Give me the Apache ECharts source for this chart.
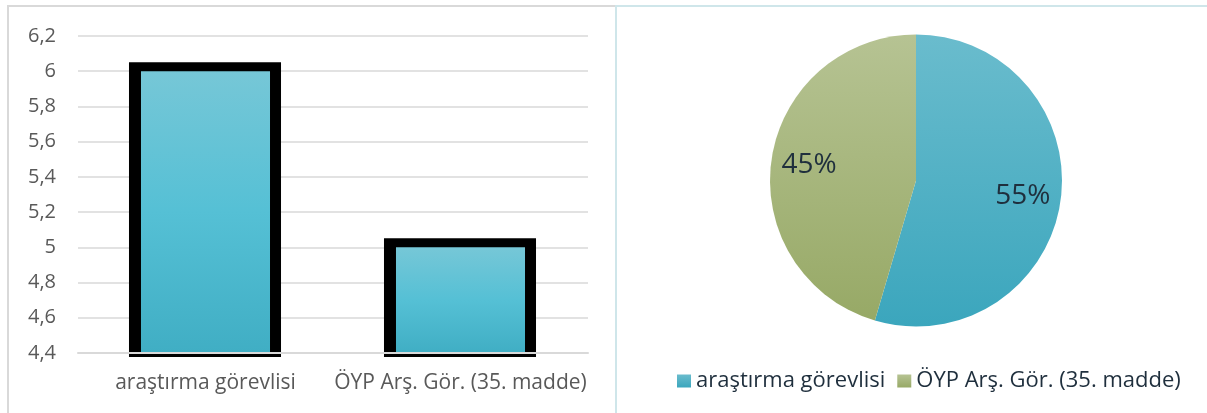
<!DOCTYPE html>
<html>
<head>
<meta charset="utf-8">
<script src="https://cdn.jsdelivr.net/npm/echarts@6/dist/echarts.min.js"></script>
<style>
html,body{margin:0;padding:0;background:#fff;}
#wrap{position:relative;width:1207px;height:413px;overflow:hidden;}
#chart{position:absolute;left:0;top:0;width:1207px;height:413px;}
.pl{position:absolute;left:7px;top:5px;width:608px;height:420px;border-top:2px solid #d9d9d9;border-left:2px solid #d9d9d9;box-sizing:border-box;}
.pr{position:absolute;left:615px;top:5px;width:600px;height:420px;border-top:2px solid #cfe6ea;border-left:2px solid #cfe6ea;box-sizing:border-box;}
</style>
</head>
<body>
<div id="wrap">
<div class="pl"></div>
<div class="pr"></div>
<div id="chart"></div>
</div>
<script>
// ---- data ----
const categories = ['araştırma görevlisi', 'ÖYP Arş. Gör. (35. madde)'];
const barValues = [6, 5];
const yTicks = [4.4, 4.6, 4.8, 5, 5.2, 5.4, 5.6, 5.8, 6, 6.2];
const pieValues = [6, 5];

const FONT = 'Open Sans';
const chart = echarts.init(document.getElementById('chart'), null, {renderer: 'canvas'});

const barGrad = new echarts.graphic.LinearGradient(0, 0, 0, 1, [
  {offset: 0, color: '#76c7d7'},
  {offset: 0.5, color: '#55c0d5'},
  {offset: 1, color: '#40aec4'}
]);
const blueGrad = new echarts.graphic.LinearGradient(0, 0, 0, 1, [
  {offset: 0, color: '#6abccd'},
  {offset: 1, color: '#3ba6bd'}
]);
const greenGrad = new echarts.graphic.LinearGradient(0, 0, 0, 1, [
  {offset: 0, color: '#b6c393'},
  {offset: 1, color: '#97a966'}
]);

const yMin = yTicks[0], yMax = yTicks[yTicks.length - 1];

const option = {
  animation: false,
  grid: {left: 78, right: 619, top: 36, bottom: 60, containLabel: false},
  xAxis: {
    type: 'category',
    data: categories,
    z: 10,
    axisLine: {show: true, lineStyle: {color: '#d9d9d9', width: 2}},
    axisTick: {show: false},
    axisLabel: {color: '#595959', fontFamily: FONT, fontSize: 21, margin: 20, interval: 0}
  },
  yAxis: {
    type: 'value',
    min: yMin, max: yMax, interval: 0.2,
    axisLine: {show: false},
    axisTick: {show: false},
    splitLine: {lineStyle: {color: '#d9d9d9', width: 1.5}},
    axisLabel: {
      color: '#595959', fontFamily: FONT, fontSize: 20, margin: 22,
      formatter: v => String(Number(v.toFixed(1))).replace('.', ',')
    }
  },
  legend: {
    left: 672, top: 365,
    itemWidth: 14, itemHeight: 13, itemGap: 12,
    icon: 'rect',
    textStyle: {color: '#1f2f3d', fontFamily: FONT, fontSize: 22, padding: [0, 0, 0, 0]},
    data: categories
  },
  series: [
    {
      type: 'custom',
      name: 'bars',
      z: 2,
      data: barValues.map((v, i) => [i, v]),
      renderItem: function (params, api) {
        const top = api.coord([api.value(0), api.value(1)]);
        const base = api.coord([api.value(0), yMin]);
        const band = api.size([1, 0])[0];
        const fw = band * 0.506;
        const cx = top[0];
        return {
          type: 'group',
          children: [
            {type: 'rect', shape: {x: cx - fw / 2 - 12, y: top[1] - 9, width: fw + 23, height: base[1] - top[1] + 13},
              style: {fill: '#000'}},
            {type: 'rect', shape: {x: cx - fw / 2, y: top[1], width: fw, height: base[1] - top[1]},
              style: {fill: barGrad}}
          ]
        };
      }
    },
    {
      type: 'pie',
      name: 'pie',
      center: [916, 180.5],
      radius: 146,
      startAngle: 90,
      clockwise: true,
      label: {show: false},
      labelLine: {show: false},
      silent: true,
      data: [
        {name: categories[0], value: pieValues[0], itemStyle: {color: blueGrad}},
        {name: categories[1], value: pieValues[1], itemStyle: {color: greenGrad}}
      ]
    },
    {
      type: 'pie',
      name: 'pieLabels',
      center: [916, 180.5],
      radius: 210,
      startAngle: 90,
      clockwise: true,
      silent: true,
      legendHoverLink: false,
      z: 5,
      itemStyle: {color: 'rgba(0,0,0,0)'},
      label: {
        show: true, position: 'inside',
        color: '#1f2f3d', fontFamily: FONT, fontSize: 28,
        formatter: p => Math.round(p.percent) + '%'
      },
      labelLine: {show: false},
      emphasis: {disabled: true},
      data: [
        {name: categories[0], value: pieValues[0]},
        {name: categories[1], value: pieValues[1]}
      ]
    }
  ]
};
chart.setOption(option);
</script>
</body>
</html>
